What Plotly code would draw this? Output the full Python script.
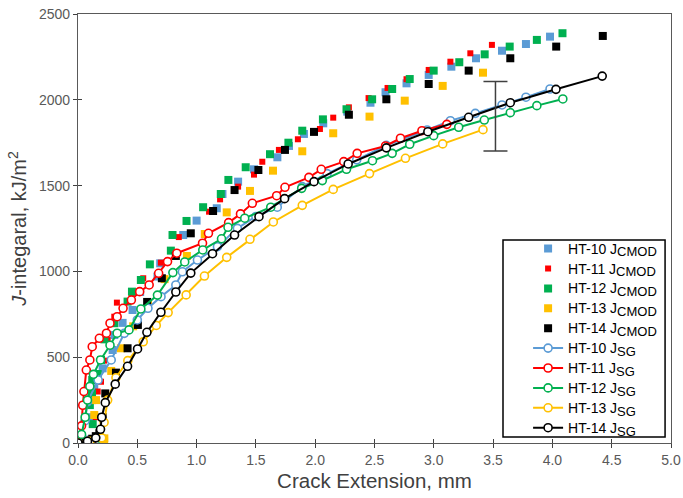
import plotly.graph_objects as go

# ---------------- data ----------------
cmod10_x = [0.0, 0.1, 0.11, 0.12, 0.137, 0.208, 0.292, 0.306, 0.376, 0.46, 0.524, 0.67, 0.693, 0.887, 1.0, 1.17, 1.218, 1.35, 1.484, 1.681, 1.779, 1.905, 2.068, 2.27, 2.466, 2.593, 2.77, 2.957, 3.148, 3.356, 3.575, 3.777, 3.98]
cmod10_y = [0, 20, 150, 250, 319, 435, 542, 629, 700, 775, 880, 970, 1047, 1212, 1296, 1368, 1451, 1523, 1595, 1665, 1731, 1801, 1863, 1931, 1983, 2044, 2096, 2145, 2193, 2242, 2286, 2325, 2368]

cmod11_x = [0.0, 0.1, 0.15, 0.166, 0.194, 0.22, 0.25, 0.306, 0.328, 0.452, 0.55, 0.699, 0.85, 1.105, 1.198, 1.35, 1.484, 1.554, 1.694, 1.854, 2.04, 2.152, 2.284, 2.45, 2.61, 2.77, 2.957, 3.14, 3.308, 3.49]
cmod11_y = [0, 20, 150, 300, 357, 480, 600, 736, 818, 862, 960, 1051, 1200, 1348, 1420, 1494, 1564, 1639, 1708, 1770, 1830, 1896, 1956, 2010, 2069, 2120, 2174, 2222, 2271, 2320]

cmod12_x = [0.0, 0.08, 0.2, 0.124, 0.1, 0.118, 0.12, 0.166, 0.194, 0.222, 0.306, 0.418, 0.455, 0.53, 0.606, 0.783, 0.797, 0.915, 1.055, 1.204, 1.268, 1.414, 1.619, 1.774, 1.891, 2.065, 2.264, 2.48, 2.649, 2.797, 2.999, 3.215, 3.429, 3.64, 3.869, 4.085]
cmod12_y = [0, 3, 25, 110, 221, 290, 367, 402, 484, 604, 698, 824, 882, 950, 1041, 1121, 1212, 1294, 1374, 1451, 1533, 1607, 1683, 1750, 1820, 1886, 1945, 2003, 2063, 2121, 2170, 2219, 2265, 2310, 2349, 2388]

cmod13_x = [0.0, 0.1, 0.22, 0.222, 0.137, 0.152, 0.28, 0.362, 0.465, 0.59, 0.73, 0.918, 1.069, 1.254, 1.45, 1.644, 1.891, 2.152, 2.458, 2.755, 3.075, 3.415]
cmod13_y = [0, 5, 10, 27, 163, 250, 420, 552, 680, 815, 955, 1090, 1218, 1344, 1469, 1587, 1700, 1805, 1902, 1995, 2081, 2158]

cmod14_x = [0.0, 0.03, 0.07, 0.12, 0.15, 0.18, 0.208, 0.23, 0.32, 0.418, 0.505, 0.583, 0.707, 0.825, 0.951, 1.139, 1.32, 1.521, 1.745, 1.99, 2.284, 2.6, 2.957, 3.294, 3.645, 4.032, 4.425]
cmod14_y = [0, 3, 8, 25, 40, 56, 150, 289, 410, 552, 688, 822, 960, 1090, 1222, 1352, 1474, 1591, 1708, 1813, 1913, 2003, 2092, 2170, 2242, 2310, 2372]

sg10_x = [0.0, 0.06, 0.08, 0.17, 0.28, 0.39, 0.5, 0.59, 0.7, 0.825, 0.88, 1.007, 1.176, 1.344, 1.5, 1.68, 1.89, 2.1, 2.35, 2.6, 2.944, 3.14, 3.35, 3.575, 3.777, 3.98]
sg10_y = [0, 130, 240, 367, 484, 639, 717, 785, 853, 921, 998, 1066, 1144, 1251, 1320, 1374, 1494, 1570, 1650, 1735, 1824, 1878, 1921, 1970, 2015, 2063]

sg11_x = [0.0, 0.03, 0.04, 0.05, 0.07, 0.1, 0.12, 0.18, 0.24, 0.27, 0.33, 0.38, 0.45, 0.52, 0.6, 0.68, 0.755, 0.833, 1.05, 1.1, 1.27, 1.37, 1.47, 1.675, 1.745, 1.947, 2.051, 2.241, 2.354, 2.593, 2.719, 2.9, 3.11]
sg11_y = [0, 100, 220, 300, 425, 484, 561, 610, 640, 698, 736, 785, 833, 882, 921, 989, 1057, 1106, 1164, 1222, 1284, 1335, 1397, 1441, 1490, 1548, 1595, 1640, 1688, 1731, 1776, 1820, 1857]

sg12_x = [0.0, 0.03, 0.06, 0.08, 0.1, 0.13, 0.19, 0.27, 0.33, 0.43, 0.53, 0.67, 0.8, 0.9, 1.052, 1.21, 1.265, 1.406, 1.625, 1.886, 2.06, 2.264, 2.483, 2.649, 2.797, 2.999, 3.21, 3.426, 3.645, 3.869, 4.088]
sg12_y = [0, 50, 150, 250, 330, 400, 484, 570, 640, 659, 781, 862, 993, 1055, 1125, 1190, 1257, 1310, 1374, 1484, 1529, 1595, 1645, 1688, 1741, 1791, 1840, 1882, 1925, 1966, 2005]

sg13_x = [0.0, 0.1, 0.2, 0.22, 0.25, 0.32, 0.42, 0.55, 0.66, 0.76, 0.912, 1.066, 1.254, 1.45, 1.647, 1.891, 2.152, 2.458, 2.761, 3.075, 3.415]
sg13_y = [0, 10, 30, 120, 250, 380, 480, 590, 685, 760, 863, 973, 1082, 1187, 1288, 1385, 1478, 1570, 1659, 1743, 1826]

sg14_x = [0.0, 0.08, 0.15, 0.19, 0.2, 0.23, 0.314, 0.418, 0.502, 0.581, 0.699, 0.825, 0.951, 1.134, 1.32, 1.526, 1.742, 1.99, 2.278, 2.6, 2.95, 3.294, 3.645, 4.03, 4.42]
sg14_y = [0, 10, 30, 80, 150, 235, 343, 447, 548, 645, 762, 880, 990, 1103, 1212, 1319, 1424, 1523, 1626, 1720, 1814, 1898, 1983, 2061, 2138]

errbar_x = [3.52]
errbar_y = [1904]
errbar_half = [202]

specimens = ["HT-10", "HT-11", "HT-12", "HT-13", "HT-14"]
colors = ["#5B9BD5", "#FF0000", "#00B050", "#FFC000", "#000000"]
sq_sizes = [8, 6, 8, 8, 8]

x_ticks = [0.0, 0.5, 1.0, 1.5, 2.0, 2.5, 3.0, 3.5, 4.0, 4.5, 5.0]
y_ticks = [0, 500, 1000, 1500, 2000, 2500]

cmod = [(cmod10_x, cmod10_y), (cmod11_x, cmod11_y), (cmod12_x, cmod12_y), (cmod13_x, cmod13_y), (cmod14_x, cmod14_y)]
sg = [(sg10_x, sg10_y), (sg11_x, sg11_y), (sg12_x, sg12_y), (sg13_x, sg13_y), (sg14_x, sg14_y)]

FONT = "Liberation Sans, Arial, sans-serif"


def legend_label(name, sub):
    return (f"<span style='font-size:14px'>{name} J</span>"
            f"<sub><span style='font-size:13px'>{sub}</span></sub>")


fig = go.Figure()

for name, col, sz, (xs, ys) in zip(specimens, colors, sq_sizes, cmod):
    fig.add_trace(go.Scatter(
        x=xs, y=ys, mode="markers", name=legend_label(name, "CMOD"),
        marker=dict(symbol="square", size=sz, color=col, line=dict(width=0)),
    ))

for name, col, (xs, ys) in zip(specimens, colors, sg):
    fig.add_trace(go.Scatter(
        x=xs, y=ys, mode="lines+markers", name=legend_label(name, "SG"),
        line=dict(color=col, width=2),
        marker=dict(symbol="circle", size=8, color="white", line=dict(color=col, width=1.6)),
    ))

fig.add_trace(go.Scatter(
    x=errbar_x, y=errbar_y, mode="markers", showlegend=False,
    marker=dict(size=1, opacity=0),
    error_y=dict(type="data", array=errbar_half, color="#404040", thickness=1.5, width=12),
    hoverinfo="skip",
))

# helper trace for the inner-tick overlay axes
fig.add_trace(go.Scatter(x=[0], y=[0], xaxis="x2", yaxis="y2", mode="markers",
                         marker=dict(opacity=0), showlegend=False, hoverinfo="skip"))

axis_common = dict(showgrid=False, zeroline=False, showline=True, linecolor="#595959",
                   linewidth=1.3, mirror=True, ticks="outside", ticklen=4, tickwidth=1.3,
                   tickcolor="#404040", automargin=False,
                   tickfont=dict(family=FONT, size=14, color="#595959"))

# legend frame (paper coords)
fig.add_shape(type="rect", xref="paper", yref="paper",
              x0=0.7167, x1=0.99, y0=0.014, y1=0.473,
              line=dict(color="#000000", width=1.5), fillcolor="white", layer="above")

fig.update_layout(
    width=683, height=498,
    margin=dict(l=78, r=12, t=14, b=55),
    paper_bgcolor="white", plot_bgcolor="white",
    font=dict(family=FONT),
    xaxis=dict(range=[0, 5], tickvals=x_ticks, ticktext=[f"{v:.1f}" for v in x_ticks],
               title=dict(text="Crack Extension, mm", font=dict(family=FONT, size=20.5, color="#404040"), standoff=6),
               **axis_common),
    yaxis=dict(range=[0, 2500], tickvals=y_ticks, ticktext=[str(v) for v in y_ticks],
               title=dict(text="<i>J</i>-integaral, kJ/m<sup>2</sup>", font=dict(family=FONT, size=20, color="#404040"), standoff=6),
               **axis_common),
    xaxis2=dict(range=[0, 5], overlaying="x", tickvals=x_ticks, ticks="inside", ticklen=4, tickwidth=1.3,
                tickcolor="#404040", showticklabels=False, showgrid=False, zeroline=False, showline=False),
    yaxis2=dict(range=[0, 2500], overlaying="y", tickvals=y_ticks, ticks="inside", ticklen=4, tickwidth=1.3,
                tickcolor="#404040", showticklabels=False, showgrid=False, zeroline=False, showline=False),
    legend=dict(x=0.759, y=0.488, xanchor="left", yanchor="top",
                bgcolor="rgba(0,0,0,0)", borderwidth=0,
                font=dict(family=FONT, size=13, color="#000000"),
                tracegroupgap=0),
    showlegend=True,
)

fig.write_html("out.html")
